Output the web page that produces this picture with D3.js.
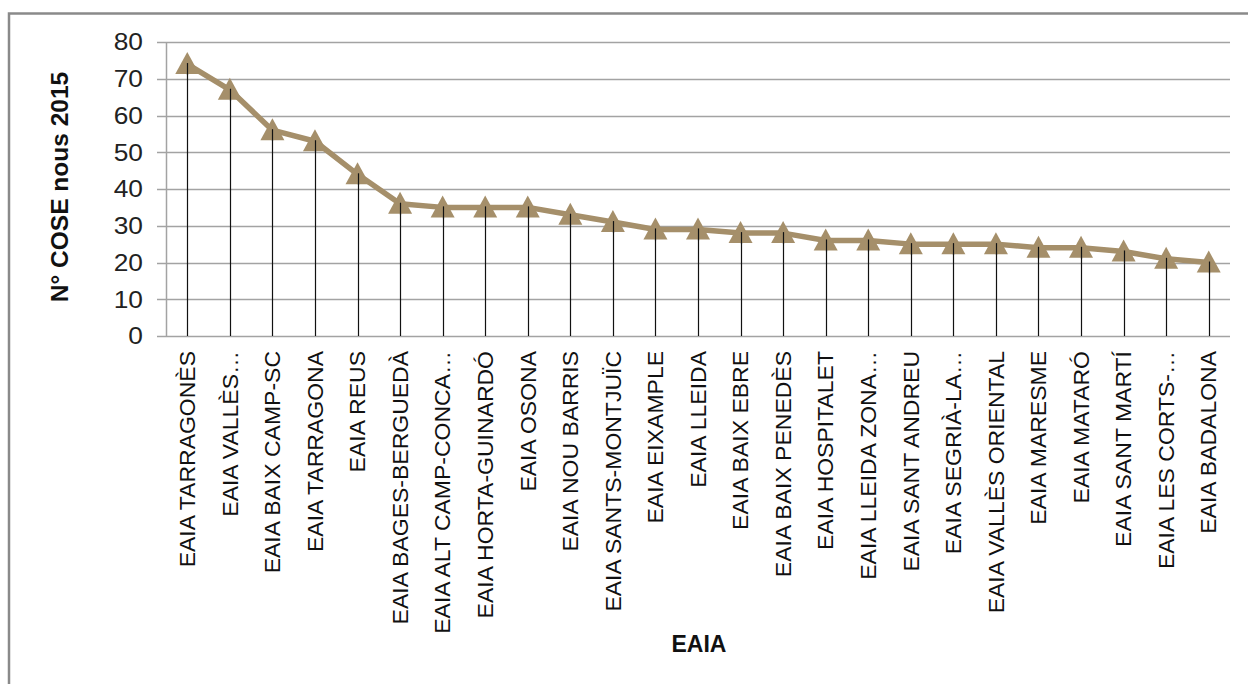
<!DOCTYPE html>
<html><head><meta charset="utf-8">
<script src="https://cdn.jsdelivr.net/npm/d3@7"></script>
<style>
html,body{margin:0;padding:0;background:#fff;}
svg{display:block;}
text{font-family:"Liberation Sans",Arial,sans-serif;}
</style></head>
<body>
<script>
const categories = ["EAIA TARRAGONÈS","EAIA VALLÈS…","EAIA BAIX CAMP-SC","EAIA TARRAGONA","EAIA REUS","EAIA BAGES-BERGUEDÀ","EAIA ALT CAMP-CONCA…","EAIA HORTA-GUINARDÓ","EAIA OSONA","EAIA NOU BARRIS","EAIA SANTS-MONTJUÏC","EAIA EIXAMPLE","EAIA LLEIDA","EAIA BAIX EBRE","EAIA BAIX PENEDÈS","EAIA HOSPITALET","EAIA LLEIDA ZONA…","EAIA SANT ANDREU","EAIA SEGRIÀ-LA…","EAIA VALLÈS ORIENTAL","EAIA MARESME","EAIA MATARÓ","EAIA SANT MARTÍ","EAIA LES CORTS-…","EAIA BADALONA"];
const values = [74,67,56,53,44,36,35,35,35,33,31,29,29,28,28,26,26,25,25,25,24,24,23,21,20];
const yTicks = [0,10,20,30,40,50,60,70,80];
const yTitle = "N° COSE nous 2015";
const xTitle = "EAIA";

const W=1248,H=684;
const svg=d3.select("body").append("svg").attr("width",W).attr("height",H);
// outer border
svg.append("rect").attr("x",9).attr("y",13.5).attr("width",1260).attr("height",700)
  .attr("fill","none").attr("stroke","#8a8a8a").attr("stroke-width",2.5);

const x=d3.scaleBand().domain(categories).range([166,1230]);
const y=d3.scaleLinear().domain([0,80]).range([336,42]);
const col="#A58F6A";

// gridlines
svg.append("g").selectAll("line").data(yTicks).join("line")
  .attr("x1",157).attr("x2",1230).attr("y1",d=>Math.round(y(d))+0.5).attr("y2",d=>Math.round(y(d))+0.5)
  .attr("stroke","#a3a3a3").attr("stroke-width",1.5);
// y axis line
svg.append("line").attr("x1",166.5).attr("x2",166.5).attr("y1",42).attr("y2",336)
  .attr("stroke","#a3a3a3").attr("stroke-width",1.5);
// y labels
svg.append("g").selectAll("text").data(yTicks).join("text")
  .attr("transform",d=>`translate(143,${y(d)}) scale(1.12,1)`)
  .attr("dy","0.36em").attr("text-anchor","end")
  .attr("font-size",23.5).attr("fill","#222").text(d=>d);

// drop lines
const cx=d=>x(d)+x.bandwidth()/2;
svg.append("g").selectAll("line").data(categories).join("line")
  .attr("x1",d=>Math.round(cx(d))+0.5).attr("x2",d=>Math.round(cx(d))+0.5)
  .attr("y1",(d,i)=>y(values[i])).attr("y2",336)
  .attr("stroke","#111").attr("stroke-width",1.2);

// line
const line=d3.line().x((d,i)=>cx(categories[i])).y(d=>y(d));
svg.append("path").datum(values).attr("d",line).attr("fill","none")
  .attr("stroke",col).attr("stroke-width",5.5).attr("stroke-linejoin","round");

// markers (triangle)
svg.append("g").selectAll("path").data(values).join("path")
  .attr("d","M0,-12L12,10L-12,10Z").attr("transform",(d,i)=>`translate(${cx(categories[i])},${y(d)})`)
  .attr("fill",col);
// drop line tops over markers
svg.append("g").selectAll("line").data(categories).join("line")
  .attr("x1",d=>Math.round(cx(d))+0.5).attr("x2",d=>Math.round(cx(d))+0.5)
  .attr("y1",(d,i)=>y(values[i])-1).attr("y2",(d,i)=>y(values[i])+11)
  .attr("stroke","#111").attr("stroke-width",1.2);

// x labels
svg.append("g").selectAll("text").data(categories).join("text")
  .attr("transform",d=>`translate(${cx(d)},351) rotate(-90) scale(1.07,1)`)
  .attr("text-anchor","end").attr("dy","0.36em")
  .attr("font-size",21.5).attr("fill","#111").text(d=>d);

// titles
svg.append("text").attr("transform","translate(68,187) rotate(-90)")
  .attr("text-anchor","middle").attr("font-size",24.5).attr("font-weight","bold")
  .attr("fill","#111").text(yTitle);
svg.append("text").attr("x",699).attr("y",652).attr("text-anchor","middle")
  .attr("font-size",23).attr("font-weight","bold").attr("fill","#111").text(xTitle);
</script>
</body></html>
